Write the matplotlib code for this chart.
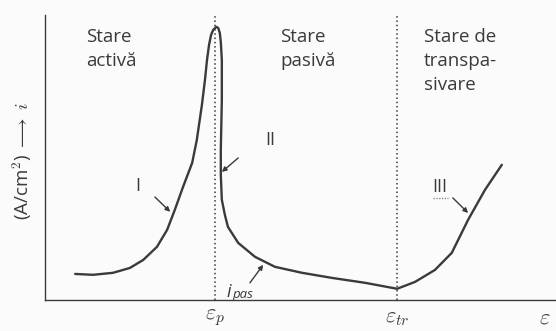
import matplotlib
matplotlib.use('Agg')
import matplotlib.pyplot as plt

# potential (arbitrary units) and current density (arbitrary units)
potential = [0.59, 0.94, 1.33, 1.66, 1.92, 2.19, 2.39, 2.54, 2.70, 2.88, 2.97,
             3.07, 3.13, 3.17, 3.21, 3.25, 3.29, 3.35, 3.39, 3.42, 3.44, 3.46,
             3.46, 3.44, 3.44, 3.46, 3.52, 3.58, 3.78, 4.11, 4.50, 5.03, 5.62,
             6.26, 6.89, 7.24, 7.63, 7.96, 8.28, 8.61, 8.94]
current = [0.91, 0.88, 0.95, 1.12, 1.40, 1.86, 2.46, 3.16, 3.96, 4.81, 5.61,
           6.84, 7.72, 8.42, 8.95, 9.30, 9.47, 9.58, 9.54, 9.37, 9.05, 8.42,
           7.02, 5.26, 4.39, 3.51, 2.98, 2.56, 2.00, 1.51, 1.16, 0.95, 0.77,
           0.60, 0.39, 0.63, 1.05, 1.65, 2.81, 3.86, 4.74]

e_p = 3.33
e_tr = 6.89

regions = ['Stare\nactivă', 'Stare\npasivă', 'Stare de\ntranspa-\nsivare']
region_x = [0.80, 4.60, 7.42]
labels = ['I', 'II', 'III']
label_xy = [(1.82, 4.00), (4.40, 5.61), (7.73, 3.96)]
arrow_from = [(2.15, 3.61), (3.78, 4.98), (7.98, 3.58), (4.01, 0.60)]
arrow_to = [(2.45, 3.09), (3.46, 4.49), (8.28, 3.05), (4.27, 1.23)]

plt.rcParams['font.family'] = ['Open Sans', 'DejaVu Sans']
plt.rcParams['mathtext.fontset'] = 'cm'

bg = '#fbfbfb'
ink = '#3a3a3a'

fig = plt.figure(figsize=(5.56, 3.31), dpi=100, facecolor=bg)
ax = fig.add_axes([0.081, 0.094, 0.919, 0.861])
ax.set_facecolor(bg)
ax.set_xlim(0, 10)
ax.set_ylim(0, 10)

ax.plot(potential, current, color=ink, lw=1.7, solid_joinstyle='round',
        solid_capstyle='round')
ax.axvline(e_p, color=ink, lw=1.1, ls=(0, (1, 1.8)))
ax.axvline(e_tr, color=ink, lw=1.1, ls=(0, (1, 1.8)))

for s in ['top', 'right']:
    ax.spines[s].set_visible(False)
for s in ['left', 'bottom']:
    ax.spines[s].set_color(ink)
    ax.spines[s].set_linewidth(1.0)
ax.set_xticks([])
ax.set_yticks([])

for txt, x in zip(regions, region_x):
    ax.text(x, 9.55, txt, fontsize=13.5, color=ink, ha='left', va='top',
            linespacing=1.45)

for txt, (x, y) in zip(labels, label_xy):
    ax.text(x, y, txt, fontsize=13, color=ink, ha='center', va='center')
# dotted underline under "III"
ax.plot([7.60, 7.88], [3.56, 3.56], color='#888888', lw=1.0, ls=(0, (1, 1)))

for (x0, y0), (x1, y1) in zip(arrow_from, arrow_to):
    ax.annotate('', xy=(x1, y1), xytext=(x0, y0),
                arrowprops=dict(arrowstyle='-|>', color=ink, lw=1.0,
                                mutation_scale=7, shrinkA=0, shrinkB=0))

ax.text(3.55, 0.10, 'i', fontsize=13, style='italic', color=ink,
        ha='left', va='baseline')
ax.text(3.67, 0.07, 'pas', fontsize=9.5, style='italic', color=ink,
        ha='left', va='baseline')

ax.text(e_p, -0.25, r'$\varepsilon_p$', fontsize=16, color=ink,
        ha='center', va='top')
ax.text(e_tr, -0.25, r'$\varepsilon_{tr}$', fontsize=16, color=ink,
        ha='center', va='top')
ax.text(9.78, -0.25, r'$\varepsilon$', fontsize=16, color=ink,
        ha='center', va='top')

fig.text(0.04, 0.515, r'(A/cm$^2$) $\longrightarrow$ $i$', rotation=90,
         fontsize=13.5, color=ink, ha='center', va='center')

fig.savefig('out.png', dpi=100, facecolor=fig.get_facecolor())
